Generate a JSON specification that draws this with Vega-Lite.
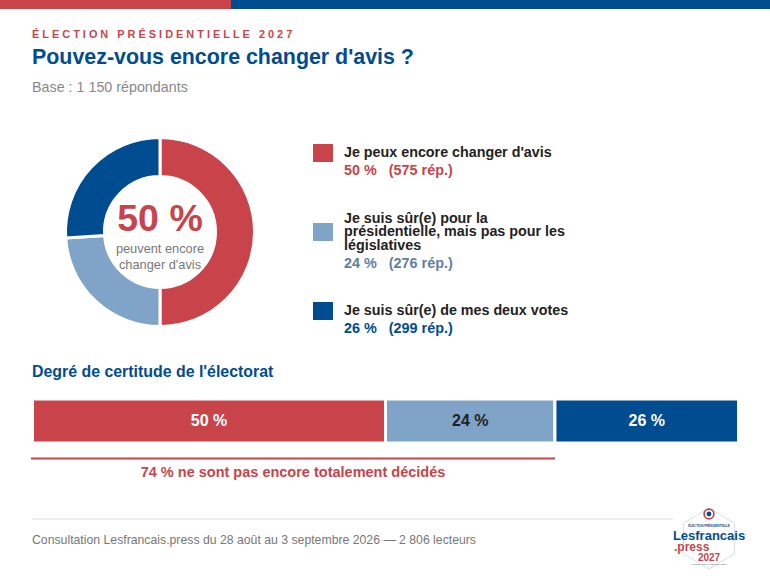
{
  "$schema": "https://vega.github.io/schema/vega-lite/v6.json",
  "padding": 0,
  "background": "#ffffff",
  "spacing": 0,
  "config": {"view": {"stroke": null}, "font": "Liberation Sans"},
  "resolve": {"scale": {"color": "independent"}},
  "datasets": {
    "reponses": [
      {"cle": "change", "libelle": "Je peux encore changer d'avis", "part": 50, "rep": 575, "rang": 1, "pct": "50 %", "detail": "50 %\u00a0\u00a0\u00a0(575 rép.)"},
      {"cle": "presid", "libelle": "Je suis sûr(e) pour la\nprésidentielle, mais pas pour les\nlégislatives", "part": 24, "rep": 276, "rang": 2, "pct": "24 %", "detail": "24 %\u00a0\u00a0\u00a0(276 rép.)"},
      {"cle": "deux", "libelle": "Je suis sûr(e) de mes deux votes", "part": 26, "rep": 299, "rang": 3, "pct": "26 %", "detail": "26 %\u00a0\u00a0\u00a0(299 rép.)"}
    ]
  },
  "vconcat": [
    {
      "width": 770,
      "height": 9,
      "data": {"values": [{"bande": "rouge", "part": 30, "rang": 1}, {"bande": "bleu", "part": 70, "rang": 2}]},
      "mark": {"type": "bar"},
      "encoding": {
        "x": {"field": "part", "type": "quantitative", "stack": "zero", "axis": null, "scale": {"domain": [0, 100], "nice": false}},
        "y": {"datum": "bandeau", "type": "nominal", "axis": null, "scale": {"type": "band", "paddingInner": 0, "paddingOuter": 0}},
        "order": {"field": "rang"},
        "color": {"field": "bande", "scale": {"domain": ["rouge", "bleu"], "range": ["#c8444a", "#004c91"]}, "legend": null}
      }
    },
    {
      "width": 770,
      "height": 101,
      "encoding": {"x": {"datum": 0, "type": "quantitative", "axis": null, "scale": {"domain": [0, 1], "range": [32, 770]}}},
      "layer": [
        {
          "data": {"values": [{"t": "É\u00a0L\u00a0E\u00a0C\u00a0T\u00a0I\u00a0O\u00a0N\u00a0\u00a0\u00a0P\u00a0R\u00a0É\u00a0S\u00a0I\u00a0D\u00a0E\u00a0N\u00a0T\u00a0I\u00a0E\u00a0L\u00a0L\u00a0E\u00a0\u00a0\u00a02\u00a00\u00a02\u00a07"}]},
          "mark": {"type": "text", "align": "left", "fontSize": 10.9, "fontWeight": "bold", "color": "#c8444a", "dy": -24.5},
          "encoding": {"text": {"field": "t"}}
        },
        {
          "data": {"values": [{"t": "Pouvez-vous encore changer d'avis ?"}]},
          "mark": {"type": "text", "align": "left", "fontSize": 21.4, "fontWeight": "bold", "color": "#004c91", "dy": -1.5},
          "encoding": {"text": {"field": "t"}}
        },
        {
          "data": {"values": [{"t": "Base : 1 150 répondants"}]},
          "mark": {"type": "text", "align": "left", "fontSize": 14.3, "color": "#888888", "dy": 28.5},
          "encoding": {"text": {"field": "t"}}
        }
      ]
    },
    {
      "spacing": 0,
      "resolve": {"scale": {"color": "independent"}},
      "hconcat": [
        {
          "width": 313,
          "height": 244,
          "encoding": {"x": {"datum": 0, "type": "quantitative", "axis": null, "scale": {"domain": [0, 1], "range": [160, 313]}}},
          "layer": [
            {
              "data": {"name": "reponses"},
              "mark": {"type": "arc", "outerRadius": 94.5, "innerRadius": 55.5, "stroke": "#ffffff", "strokeWidth": 3},
              "encoding": {
                "theta": {"field": "part", "type": "quantitative", "stack": "zero"},
                "order": {"field": "rang"},
                "color": {"field": "cle", "scale": {"domain": ["change", "presid", "deux"], "range": ["#c8444a", "#7fa4c8", "#004c91"]}, "legend": null}
              }
            },
            {
              "data": {"values": [{"t": "50 %"}]},
              "mark": {"type": "text", "fontSize": 37.5, "fontWeight": "bold", "color": "#c8444a", "dy": -12},
              "encoding": {"text": {"field": "t"}}
            },
            {
              "data": {"values": [{"t": "peuvent encore\nchanger d'avis"}]},
              "mark": {"type": "text", "fontSize": 12.8, "color": "#777777", "lineBreak": "\n", "lineHeight": 16, "dy": 17},
              "encoding": {"text": {"field": "t"}}
            }
          ]
        },
        {
          "width": 457,
          "height": 244,
          "data": {"name": "reponses"},
          "encoding": {
            "x": {"datum": 1, "type": "quantitative", "axis": null, "scale": {"domain": [0, 1], "range": [10, 31]}},
            "y": {"field": "cle", "type": "nominal", "axis": null, "scale": {"type": "point", "domain": ["change", "presid", "deux"], "range": [43, 201], "padding": 0}}
          },
          "layer": [
            {
              "mark": {"type": "point", "filled": true, "opacity": 1, "size": 400, "shape": "M-1,-0.9L1,-0.9L1,0.9L-1,0.9Z"},
              "encoding": {
                "x": {"datum": 0, "type": "quantitative"},
                "color": {"field": "cle", "scale": {"domain": ["change", "presid", "deux"], "range": ["#c8444a", "#7fa4c8", "#004c91"]}, "legend": null}
              }
            },
            {
              "transform": [{"filter": "datum.cle != 'presid'"}],
              "mark": {"type": "text", "align": "left", "fontSize": 14.3, "fontWeight": "bold", "color": "#222222", "dy": -0.5},
              "encoding": {"text": {"field": "libelle"}}
            },
            {
              "transform": [{"filter": "datum.cle == 'presid'"}],
              "mark": {"type": "text", "align": "left", "fontSize": 14.3, "fontWeight": "bold", "color": "#222222", "lineBreak": "\n", "lineHeight": 13.5, "dy": -13.5},
              "encoding": {"text": {"field": "libelle"}}
            },
            {
              "transform": [{"filter": "datum.cle != 'presid'"}],
              "mark": {"type": "text", "align": "left", "fontSize": 14.4, "fontWeight": "bold", "dy": 17.5},
              "encoding": {
                "text": {"field": "detail"},
                "color": {"field": "cle", "scale": {"domain": ["change", "presid", "deux"], "range": ["#c8444a", "#5f7f9f", "#004c91"]}, "legend": null}
              }
            },
            {
              "transform": [{"filter": "datum.cle == 'presid'"}],
              "mark": {"type": "text", "align": "left", "fontSize": 14.4, "fontWeight": "bold", "color": "#5f7f9f", "dy": 31.5},
              "encoding": {"text": {"field": "detail"}}
            }
          ],
          "resolve": {"scale": {"color": "independent"}}
        }
      ]
    },
    {
      "width": 770,
      "height": 42.5,
      "data": {"values": [{"t": "Degré de certitude de l'électorat"}]},
      "mark": {"type": "text", "align": "left", "fontSize": 15.9, "fontWeight": "bold", "color": "#004c91", "dy": -3.5},
      "encoding": {
        "x": {"datum": 0, "type": "quantitative", "axis": null, "scale": {"domain": [0, 1], "range": [32, 770]}},
        "text": {"field": "t"}
      }
    },
    {
      "width": 770,
      "height": 44,
      "data": {"name": "reponses"},
      "encoding": {
        "x": {"field": "part", "type": "quantitative", "stack": "zero", "axis": null, "scale": {"domain": [0, 100], "range": [32.5, 738.5], "nice": false}},
        "y": {"datum": "barre", "type": "nominal", "axis": null, "scale": {"type": "band", "paddingInner": 0, "paddingOuter": 0}},
        "order": {"field": "rang"}
      },
      "layer": [
        {
          "mark": {"type": "bar", "stroke": "#ffffff", "strokeWidth": 3},
          "encoding": {
            "color": {"field": "cle", "scale": {"domain": ["change", "presid", "deux"], "range": ["#c8444a", "#7fa4c8", "#004c91"]}, "legend": null}
          }
        },
        {
          "mark": {"type": "text", "fontSize": 16, "fontWeight": "bold"},
          "encoding": {
            "x": {"field": "part", "type": "quantitative", "stack": "zero", "bandPosition": 0.5, "axis": null, "scale": {"domain": [0, 100], "range": [32.5, 738.5], "nice": false}},
            "text": {"field": "pct"},
            "color": {"field": "cle", "scale": {"domain": ["change", "presid", "deux"], "range": ["#ffffff", "#222222", "#ffffff"]}, "legend": null}
          }
        }
      ],
      "resolve": {"scale": {"color": "independent"}}
    },
    {
      "width": 770,
      "height": 45.5,
      "encoding": {
        "y": {"field": "element", "type": "nominal", "axis": null, "scale": {"type": "point", "domain": ["ligne", "texte"], "range": [13.5, 27.5], "padding": 0}}
      },
      "layer": [
        {
          "data": {"values": [{"element": "ligne", "debut": 0, "cumul": 74}]},
          "mark": {"type": "rule", "color": "#c8444a", "strokeWidth": 2},
          "encoding": {
            "x": {"field": "debut", "type": "quantitative", "axis": null, "scale": {"domain": [0, 74], "range": [31, 555], "nice": false}},
            "x2": {"field": "cumul"}
          }
        },
        {
          "data": {"values": [{"element": "texte", "t": "74 % ne sont pas encore totalement décidés"}]},
          "mark": {"type": "text", "fontSize": 14.5, "fontWeight": "bold", "color": "#c8444a"},
          "encoding": {
            "x": {"datum": 37, "type": "quantitative"},
            "text": {"field": "t"}
          }
        }
      ]
    },
    {
      "spacing": 0,
      "bounds": "flush",
      "hconcat": [
        {
          "width": 673,
          "height": 90,
          "encoding": {
            "x": {"datum": 0, "type": "quantitative", "axis": null, "scale": {"domain": [0, 1], "range": [32, 673]}},
            "y": {"field": "element", "type": "nominal", "axis": null, "scale": {"type": "point", "domain": ["filet", "source"], "range": [28, 49], "padding": 0}}
          },
          "layer": [
            {
              "data": {"values": [{"element": "filet"}]},
              "mark": {"type": "rule", "color": "#dddddd", "strokeWidth": 1},
              "encoding": {"x2": {"datum": 1}}
            },
            {
              "data": {"values": [{"element": "source", "t": "Consultation Lesfrancais.press du 28 août au 3 septembre 2026 — 2 806 lecteurs"}]},
              "mark": {"type": "text", "align": "left", "fontSize": 12.25, "color": "#777777"},
              "encoding": {"text": {"field": "t"}}
            }
          ]
        },
        {
          "width": 97,
          "height": 90,
          "encoding": {
            "x": {"datum": 1, "type": "quantitative", "axis": null, "scale": {"domain": [0, 1], "range": [1, 36]}},
            "y": {"field": "element", "type": "nominal", "axis": null, "scale": {"type": "point", "domain": ["cocarde", "logo"], "range": [23, 47.5], "padding": 0}}
          },
          "layer": [
            {
              "data": {"values": [{"element": "logo"}]},
              "mark": {"type": "point", "filled": false, "opacity": 1, "size": 3721, "stroke": "#d3dfec", "strokeWidth": 1, "shape": "M0,-1L0.836,-0.5L0.836,0.5L0,1L-0.836,0.5L-0.836,-0.5Z"}
            },
            {
              "data": {"values": [{"element": "cocarde"}]},
              "mark": {"type": "point", "filled": true, "opacity": 1, "size": 133, "color": "#c8444a", "shape": "circle"}
            },
            {
              "data": {"values": [{"element": "cocarde"}]},
              "mark": {"type": "point", "filled": true, "opacity": 1, "size": 64, "color": "#ffffff", "shape": "circle"}
            },
            {
              "data": {"values": [{"element": "cocarde"}]},
              "mark": {"type": "point", "filled": true, "opacity": 1, "size": 24, "color": "#004c91", "shape": "circle"}
            },
            {
              "data": {"values": [{"element": "logo", "t": "ÉLECTION PRÉSIDENTIELLE"}]},
              "mark": {"type": "text", "fontSize": 3, "fontWeight": "bold", "color": "#004c91", "dy": -12.5},
              "encoding": {"text": {"field": "t"}}
            },
            {
              "data": {"values": [{"element": "logo", "t": "Lesfrancais"}]},
              "mark": {"type": "text", "fontSize": 13, "fontWeight": "bold", "color": "#004c91", "dy": -3},
              "encoding": {"text": {"field": "t"}}
            },
            {
              "data": {"values": [{"element": "logo", "t": ".press"}]},
              "mark": {"type": "text", "align": "left", "fontSize": 12, "fontWeight": "bold", "color": "#c8444a", "dy": 8},
              "encoding": {"x": {"datum": 0, "type": "quantitative"}, "text": {"field": "t"}}
            },
            {
              "data": {"values": [{"element": "logo", "t": "2027"}]},
              "mark": {"type": "text", "fontSize": 10, "fontWeight": "bold", "color": "#c8444a", "dy": 19.5},
              "encoding": {"text": {"field": "t"}}
            },
            {
              "data": {"values": [{"element": "logo", "t": "L'INFORMATION AU CŒUR DU DÉBAT"}]},
              "mark": {"type": "text", "fontSize": 2, "color": "#555555", "dy": 25.5},
              "encoding": {"text": {"field": "t"}}
            }
          ]
        }
      ]
    }
  ]
}
